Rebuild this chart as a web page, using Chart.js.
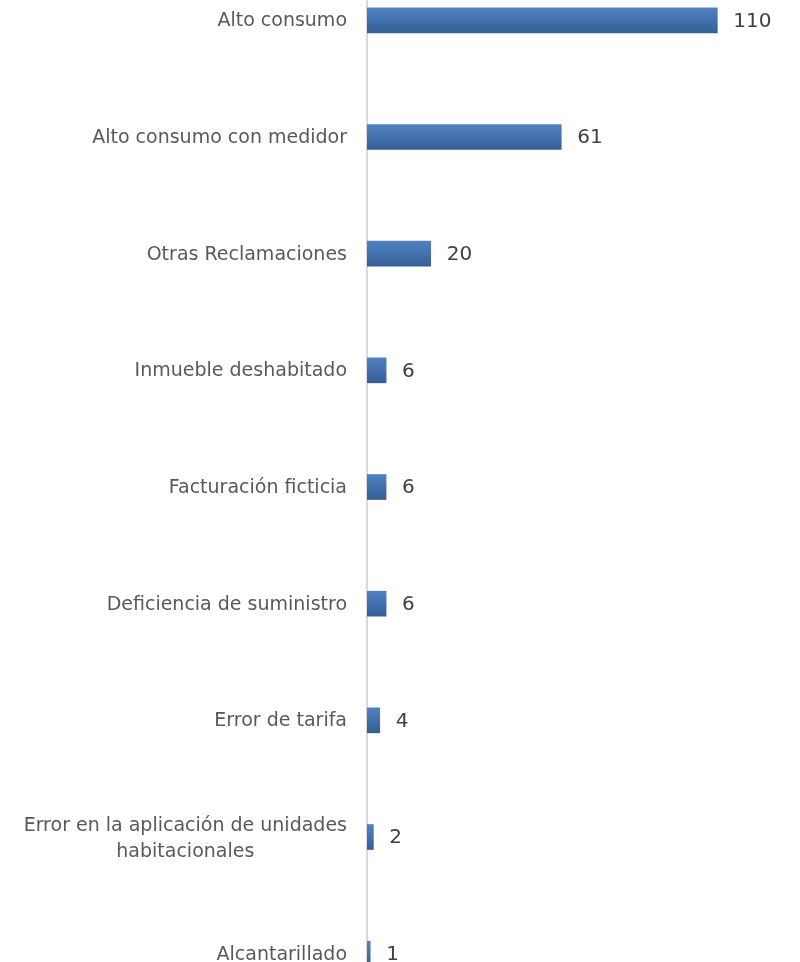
<!DOCTYPE html>
<html>
<head>
<meta charset="utf-8">
<script src="https://cdn.jsdelivr.net/npm/chart.js@4/dist/chart.umd.min.js"></script>
<style>
  html, body { margin: 0; padding: 0; background: #fff; overflow: hidden; width: 800px; height: 962px; }
  #wrap { position: absolute; left: 0; top: -38px; width: 800px; height: 1050px; }
</style>
</head>
<body>
<div id="wrap"><canvas id="chart" width="800" height="1050"></canvas></div>
<script>
// categories (top to bottom) and counts
const categories = [
  'Alto consumo',
  'Alto consumo con medidor',
  'Otras Reclamaciones',
  'Inmueble deshabitado',
  'Facturación ficticia',
  'Deficiencia de suministro',
  'Error de tarifa',
  ['Error en la aplicación de unidades', 'habitacionales'],
  'Alcantarillado'
];
const counts = [110, 61, 20, 6, 6, 6, 4, 2, 1];
const xMax = 130;

const FONT = '"DejaVu Sans", sans-serif';
const BAR_H = 25;

// vertical gradient per bar
function barFill(ctx) {
  const chart = ctx.chart;
  const y = chart.scales.y;
  if (!chart.chartArea || !y) return '#4572a7';
  const cy = y.getPixelForValue(ctx.dataIndex);
  const g = chart.ctx.createLinearGradient(0, cy - BAR_H / 2, 0, cy + BAR_H / 2);
  g.addColorStop(0, '#4f82c2');
  g.addColorStop(1, '#365f95');
  return g;
}

// value labels after bar ends
const valueLabels = {
  id: 'valueLabels',
  afterDatasetsDraw(chart) {
    const c = chart.ctx;
    c.save();
    c.font = '20px ' + FONT;
    c.fillStyle = '#404040';
    c.textAlign = 'left';
    c.textBaseline = 'middle';
    chart.getDatasetMeta(0).data.forEach((bar, i) => {
      c.fillText(String(counts[i]), bar.x + 16, bar.y + 1);
    });
    c.restore();
  }
};

// category labels, right aligned against the axis, multi-line centred
const catLabels = {
  id: 'catLabels',
  afterDraw(chart) {
    const c = chart.ctx;
    const y = chart.scales.y;
    const right = chart.chartArea.left - 20;
    c.save();
    c.font = '19px ' + FONT;
    c.fillStyle = '#595959';
    c.textBaseline = 'middle';
    categories.forEach((lab, i) => {
      const cy = y.getPixelForValue(i) + 1;
      const lines = Array.isArray(lab) ? lab : [lab];
      const lh = 26;
      const w = Math.max(...lines.map(l => c.measureText(l).width));
      lines.forEach((l, k) => {
        const ly = cy + (k - (lines.length - 1) / 2) * lh + (lines.length > 1 ? 1 : 0);
        if (lines.length > 1) {
          c.textAlign = 'center';
          c.fillText(l, right - w / 2, ly);
        } else {
          c.textAlign = 'right';
          c.fillText(l, right, ly);
        }
      });
    });
    c.restore();
  }
};

new Chart(document.getElementById('chart'), {
  type: 'bar',
  data: {
    labels: categories,
    datasets: [{
      data: counts,
      backgroundColor: barFill,
      borderWidth: 0,
      barThickness: BAR_H
    }]
  },
  options: {
    indexAxis: 'y',
    responsive: false,
    animation: false,
    layout: { padding: { left: 0, right: 19, top: 0, bottom: 0 } },
    plugins: { legend: { display: false }, tooltip: { enabled: false } },
    scales: {
      x: { display: false, min: 0, max: xMax },
      y: {
        grid: { display: false },
        ticks: { display: false },
        border: { display: true, color: '#d9d9d9', width: 2 },
        afterFit(scale) { scale.width = 367; }
      }
    }
  },
  plugins: [valueLabels, catLabels]
});
</script>
</body>
</html>
